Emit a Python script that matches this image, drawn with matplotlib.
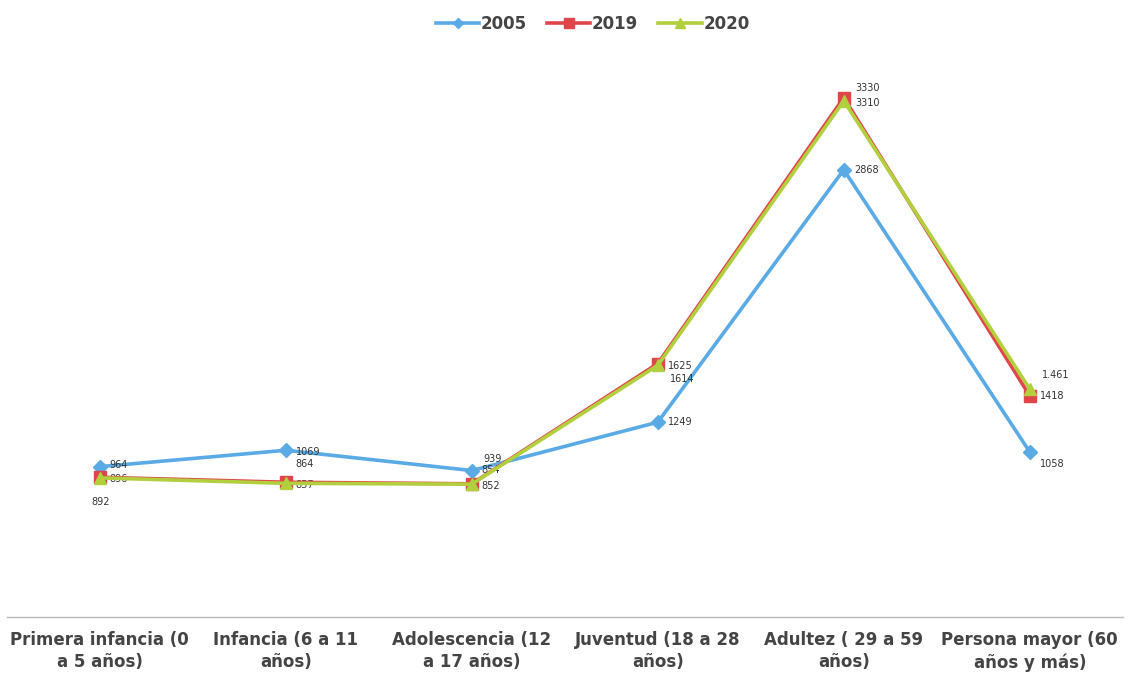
import numpy as np
import matplotlib.pyplot as plt

categorias = ['Primera infancia (0\na 5 años)', 'Infancia (6 a 11\naños)',
              'Adolescencia (12\na 17 años)', 'Juventud (18 a 28\naños)',
              'Adultez ( 29 a 59\naños)', 'Persona mayor (60\naños y más)']
v2005 = [964, 1069, 939, 1249, 2868, 1058]
v2019 = [896, 864, 854, 1625, 3330, 1418]
v2020 = [892, 857, 852, 1614, 3310, 1461]
etiquetas2020 = ['892', '857', '852', '1614', '3310', '1.461']

# offsets (pixels) for the data labels, per series
off2005 = [(10, 2), (10, -2), (12, 12), (10, 0), (10, 0), (10, -12)]
off2019 = [(10, -2), (10, 18), (10, 14), (10, -2), (12, 10), (10, 0)]
off2020 = [(-8, -24), (10, -2), (10, -2), (12, -14), (12, -2), (12, 14)]

c2005 = '#5aaae6'
c2019 = '#e0454a'
c2020 = '#b2cf3e'

fig = plt.figure(figsize=(11.29, 6.78), dpi=100)
ax = fig.add_axes([0.006, 0.09, 0.9885, 0.805])
x = np.arange(len(categorias))

ax.plot(x, v2005, color=c2005, lw=2.6, marker='D', ms=7, label='2005', zorder=3)
ax.plot(x, v2019, color=c2019, lw=2.6, marker='s', ms=9, label='2019', zorder=4)
ax.plot(x, v2020, color=c2020, lw=2.6, marker='^', ms=9, label='2020', zorder=5)

for i in x:
    ax.annotate(str(v2005[i]), (x[i], v2005[i]), xytext=off2005[i],
                textcoords='offset pixels', fontsize=7, color='#333333', va='center')
    ax.annotate(str(v2019[i]), (x[i], v2019[i]), xytext=off2019[i],
                textcoords='offset pixels', fontsize=7, color='#333333', va='center')
    ax.annotate(etiquetas2020[i], (x[i], v2020[i]), xytext=off2020[i],
                textcoords='offset pixels', fontsize=7, color='#333333', va='center')

ax.set_xlim(-0.5, len(categorias) - 0.5)
ax.set_ylim(0, 3500)
ax.set_yticks([])
ax.set_xticks(x)
ax.set_xticklabels(categorias, fontsize=12, color='#444444', fontweight='bold',
                   linespacing=1.3)
ax.tick_params(axis='x', length=0, pad=10)
for s in ['top', 'right', 'left']:
    ax.spines[s].set_visible(False)
ax.spines['bottom'].set_color('#bbbbbb')
ax.spines['bottom'].set_linewidth(1)

fig.legend(loc='upper center', bbox_to_anchor=(0.525, 1.0), ncol=3, frameon=False,
           prop={'size': 12, 'weight': 'bold'}, handlelength=2.6, columnspacing=1.2,
           handletextpad=0.1, labelcolor='#444444', markerscale=0.75)

fig.savefig('out.png', dpi=100)
